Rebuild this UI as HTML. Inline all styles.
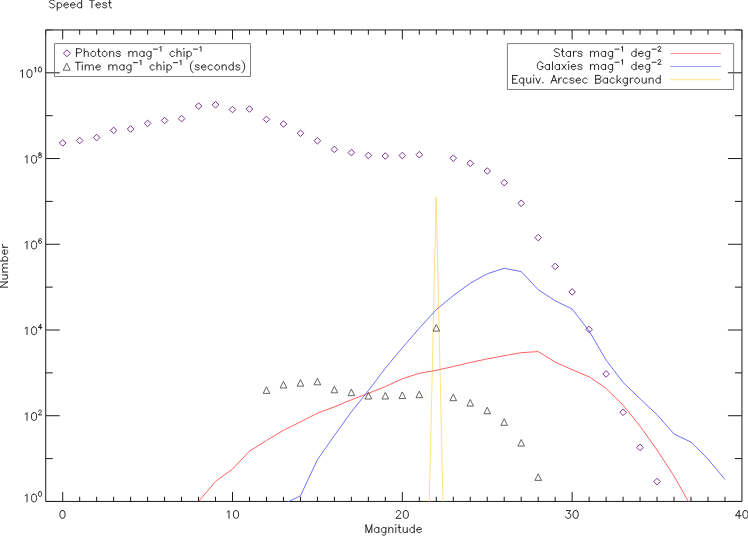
<!DOCTYPE html>
<html><head><meta charset="utf-8"><title>Speed Test</title>
<style>html,body{margin:0;padding:0;background:#fff;font-family:"Liberation Sans",sans-serif;}svg{display:block}</style></head>
<body>
<svg width="748" height="536" viewBox="0 0 748 536">
<rect x="0" y="0" width="748" height="536" fill="#fff"/>
<path d="M45.72 29.95 H741.95 V501.45 H45.72 ZM62.7 501.45 v-9.4 M62.7 29.95 v9.4M79.68 501.45 v-4.7 M79.68 29.95 v4.7M96.66 501.45 v-4.7 M96.66 29.95 v4.7M113.64 501.45 v-4.7 M113.64 29.95 v4.7M130.63 501.45 v-4.7 M130.63 29.95 v4.7M147.61 501.45 v-4.7 M147.61 29.95 v4.7M164.59 501.45 v-4.7 M164.59 29.95 v4.7M181.57 501.45 v-4.7 M181.57 29.95 v4.7M198.55 501.45 v-4.7 M198.55 29.95 v4.7M215.53 501.45 v-4.7 M215.53 29.95 v4.7M232.51 501.45 v-9.4 M232.51 29.95 v9.4M249.49 501.45 v-4.7 M249.49 29.95 v4.7M266.48 501.45 v-4.7 M266.48 29.95 v4.7M283.46 501.45 v-4.7 M283.46 29.95 v4.7M300.44 501.45 v-4.7 M300.44 29.95 v4.7M317.42 501.45 v-4.7 M317.42 29.95 v4.7M334.4 501.45 v-4.7 M334.4 29.95 v4.7M351.38 501.45 v-4.7 M351.38 29.95 v4.7M368.36 501.45 v-4.7 M368.36 29.95 v4.7M385.34 501.45 v-4.7 M385.34 29.95 v4.7M402.33 501.45 v-9.4 M402.33 29.95 v9.4M419.31 501.45 v-4.7 M419.31 29.95 v4.7M436.29 501.45 v-4.7 M436.29 29.95 v4.7M453.27 501.45 v-4.7 M453.27 29.95 v4.7M470.25 501.45 v-4.7 M470.25 29.95 v4.7M487.23 501.45 v-4.7 M487.23 29.95 v4.7M504.21 501.45 v-4.7 M504.21 29.95 v4.7M521.19 501.45 v-4.7 M521.19 29.95 v4.7M538.18 501.45 v-4.7 M538.18 29.95 v4.7M555.16 501.45 v-4.7 M555.16 29.95 v4.7M572.14 501.45 v-9.4 M572.14 29.95 v9.4M589.12 501.45 v-4.7 M589.12 29.95 v4.7M606.1 501.45 v-4.7 M606.1 29.95 v4.7M623.08 501.45 v-4.7 M623.08 29.95 v4.7M640.06 501.45 v-4.7 M640.06 29.95 v4.7M657.04 501.45 v-4.7 M657.04 29.95 v4.7M674.03 501.45 v-4.7 M674.03 29.95 v4.7M691.01 501.45 v-4.7 M691.01 29.95 v4.7M707.99 501.45 v-4.7 M707.99 29.95 v4.7M724.97 501.45 v-4.7 M724.97 29.95 v4.7M45.72 458.59 h7 M741.95 458.59 h-7M45.72 415.72 h14 M741.95 415.72 h-14M45.72 372.86 h7 M741.95 372.86 h-7M45.72 330 h14 M741.95 330 h-14M45.72 287.13 h7 M741.95 287.13 h-7M45.72 244.27 h14 M741.95 244.27 h-14M45.72 201.4 h7 M741.95 201.4 h-7M45.72 158.54 h14 M741.95 158.54 h-14M45.72 115.68 h7 M741.95 115.68 h-7M45.72 72.81 h14 M741.95 72.81 h-14" fill="none" stroke="#1a1a1a" stroke-width="1"/>
<path d="M45.72 29.95 v4.7M741.95 29.95 v9.4M45.72 501.45 h14 M741.95 501.45 h-14M45.72 29.95 h7 M741.95 29.95 h-7" fill="none" stroke="#1a1a1a" stroke-width="1" stroke-opacity="0.55"/>
<clipPath id="c"><rect x="45.72" y="29.95" width="696.23" height="471.8"/></clipPath>
<g clip-path="url(#c)" fill="none" stroke-linejoin="round">
<path d="M419.31 946 L436.19 196.7 L452.87 946" stroke="#ffd75f" stroke-width="0.9" stroke-opacity="0.85"/>
<path d="M198.55 501.6 L215.53 481.4 L232.51 469.1 L249.49 451.1 L266.48 440.5 L283.46 430.3 L300.44 421.9 L317.42 413.2 L334.4 406.9 L351.38 399.8 L368.36 393.4 L385.34 386.6 L402.33 378.8 L419.31 373.3 L436.29 370.3 L453.27 366.5 L470.25 362.5 L487.23 358.9 L504.21 355.7 L521.19 352.7 L538.18 351.6 L555.16 362.1 L572.14 369.7 L589.12 376.8 L606.1 388.4 L623.08 405.2 L640.06 426.2 L657.04 450 L674.03 476.1 L691.01 506.1" stroke="#ff5a5a" stroke-width="0.95"/>
<path d="M283.46 504 L300.44 495.8 L317.42 459.7 L334.4 435.5 L351.38 411.8 L368.36 390.6 L385.34 368.2 L402.33 347.8 L419.31 328.2 L436.29 309.7 L453.27 295.6 L470.25 283.2 L487.23 273.8 L504.21 268.3 L521.19 271.6 L538.18 289.6 L555.16 300.8 L572.14 309 L589.12 331 L606.1 360.1 L623.08 382.4 L640.06 398.8 L657.04 414.7 L674.03 434 L691.01 442.1 L707.99 459.1 L724.97 479.5" stroke="#6868ff" stroke-width="0.95"/>
</g>
<path d="M59.4 142.95 l3.3 -3.3 l3.3 3.3 l-3.3 3.3 ZM76.38 140.5 l3.3 -3.3 l3.3 3.3 l-3.3 3.3 ZM93.36 137.6 l3.3 -3.3 l3.3 3.3 l-3.3 3.3 ZM110.34 130.4 l3.3 -3.3 l3.3 3.3 l-3.3 3.3 ZM127.33 129 l3.3 -3.3 l3.3 3.3 l-3.3 3.3 ZM144.31 123.4 l3.3 -3.3 l3.3 3.3 l-3.3 3.3 ZM161.29 120.5 l3.3 -3.3 l3.3 3.3 l-3.3 3.3 ZM178.27 118.6 l3.3 -3.3 l3.3 3.3 l-3.3 3.3 ZM195.25 106.05 l3.3 -3.3 l3.3 3.3 l-3.3 3.3 ZM212.23 104.8 l3.3 -3.3 l3.3 3.3 l-3.3 3.3 ZM229.21 109.5 l3.3 -3.3 l3.3 3.3 l-3.3 3.3 ZM246.19 109 l3.3 -3.3 l3.3 3.3 l-3.3 3.3 ZM263.18 119.4 l3.3 -3.3 l3.3 3.3 l-3.3 3.3 ZM280.16 124 l3.3 -3.3 l3.3 3.3 l-3.3 3.3 ZM297.14 133.3 l3.3 -3.3 l3.3 3.3 l-3.3 3.3 ZM314.12 140.8 l3.3 -3.3 l3.3 3.3 l-3.3 3.3 ZM331.1 149.4 l3.3 -3.3 l3.3 3.3 l-3.3 3.3 ZM348.08 152.6 l3.3 -3.3 l3.3 3.3 l-3.3 3.3 ZM365.06 155.5 l3.3 -3.3 l3.3 3.3 l-3.3 3.3 ZM382.04 156 l3.3 -3.3 l3.3 3.3 l-3.3 3.3 ZM399.03 155.5 l3.3 -3.3 l3.3 3.3 l-3.3 3.3 ZM416.01 154.7 l3.3 -3.3 l3.3 3.3 l-3.3 3.3 ZM449.97 158.2 l3.3 -3.3 l3.3 3.3 l-3.3 3.3 ZM466.95 163.3 l3.3 -3.3 l3.3 3.3 l-3.3 3.3 ZM483.93 171 l3.3 -3.3 l3.3 3.3 l-3.3 3.3 ZM500.91 182.7 l3.3 -3.3 l3.3 3.3 l-3.3 3.3 ZM517.89 203.3 l3.3 -3.3 l3.3 3.3 l-3.3 3.3 ZM534.88 237.6 l3.3 -3.3 l3.3 3.3 l-3.3 3.3 ZM551.86 266.4 l3.3 -3.3 l3.3 3.3 l-3.3 3.3 ZM568.84 291.9 l3.3 -3.3 l3.3 3.3 l-3.3 3.3 ZM585.82 329.4 l3.3 -3.3 l3.3 3.3 l-3.3 3.3 ZM602.8 373.9 l3.3 -3.3 l3.3 3.3 l-3.3 3.3 ZM619.78 412.3 l3.3 -3.3 l3.3 3.3 l-3.3 3.3 ZM636.76 447.4 l3.3 -3.3 l3.3 3.3 l-3.3 3.3 ZM653.74 481.6 l3.3 -3.3 l3.3 3.3 l-3.3 3.3 ZM63.45 53.25 l3.5 -3.5 l3.5 3.5 l-3.5 3.5 Z" fill="none" stroke="#7c3492" stroke-width="1"/>
<path d="M263.18 393.4 l6.6 0 l-3.3 -6.6 ZM280.16 388 l6.6 0 l-3.3 -6.6 ZM297.14 386.2 l6.6 0 l-3.3 -6.6 ZM314.12 384.8 l6.6 0 l-3.3 -6.6 ZM331.1 392.8 l6.6 0 l-3.3 -6.6 ZM348.08 395.7 l6.6 0 l-3.3 -6.6 ZM365.06 399 l6.6 0 l-3.3 -6.6 ZM382.04 399 l6.6 0 l-3.3 -6.6 ZM399.03 398.5 l6.6 0 l-3.3 -6.6 ZM416.01 397.7 l6.6 0 l-3.3 -6.6 ZM432.99 331.1 l6.6 0 l-3.3 -6.6 ZM449.97 400.7 l6.6 0 l-3.3 -6.6 ZM466.95 406.1 l6.6 0 l-3.3 -6.6 ZM483.93 413.8 l6.6 0 l-3.3 -6.6 ZM500.91 425.3 l6.6 0 l-3.3 -6.6 ZM517.89 446.1 l6.6 0 l-3.3 -6.6 ZM534.88 480.4 l6.6 0 l-3.3 -6.6 ZM63.2 70.2 l7 0 l-3.5 -7 Z" fill="none" stroke="#333" stroke-width="0.75"/>
<path d="M54.5 43.6 H250.5 V76.5 H54.5 Z M507.4 43.6 H733.6 V89.5 H507.4 Z" fill="none" stroke="#707070" stroke-width="0.9"/>
<path d="M670.2 53.5 H721" stroke="#ff9494" stroke-width="1" fill="none"/>
<path d="M670.2 66.5 H721" stroke="#9c9cff" stroke-width="1" fill="none"/>
<path d="M670.2 79.6 H721" stroke="#ffe08a" stroke-width="1.3" stroke-opacity="0.8" fill="none"/>
<path d="M54.67 1.21 L53.94 0.47 L52.83 0.1 L51.35 0.1 L50.24 0.47 L49.51 1.21 L49.51 1.95 L49.88 2.68 L50.24 3.05 L50.98 3.42 L53.2 4.16 L53.94 4.53 L54.3 4.9 L54.67 5.64 L54.67 6.74 L53.94 7.48 L52.83 7.85 L51.35 7.85 L50.24 7.48 L49.51 6.74M57.26 2.68 L57.26 10.43M57.26 3.79 L57.99 3.05 L58.73 2.68 L59.84 2.68 L60.58 3.05 L61.31 3.79 L61.68 4.9 L61.68 5.64 L61.31 6.74 L60.58 7.48 L59.84 7.85 L58.73 7.85 L57.99 7.48 L57.26 6.74M63.9 4.9 L68.33 4.9 L68.33 4.16 L67.96 3.42 L67.59 3.05 L66.85 2.68 L65.74 2.68 L65 3.05 L64.27 3.79 L63.9 4.9 L63.9 5.64 L64.27 6.74 L65 7.48 L65.74 7.85 L66.85 7.85 L67.59 7.48 L68.33 6.74M70.54 4.9 L74.97 4.9 L74.97 4.16 L74.6 3.42 L74.23 3.05 L73.49 2.68 L72.38 2.68 L71.65 3.05 L70.91 3.79 L70.54 4.9 L70.54 5.64 L70.91 6.74 L71.65 7.48 L72.38 7.85 L73.49 7.85 L74.23 7.48 L74.97 6.74M81.61 0.1 L81.61 7.85M81.61 3.79 L80.87 3.05 L80.13 2.68 L79.03 2.68 L78.29 3.05 L77.55 3.79 L77.18 4.9 L77.18 5.64 L77.55 6.74 L78.29 7.48 L79.03 7.85 L80.13 7.85 L80.87 7.48 L81.61 6.74M91.94 0.1 L91.94 7.85M89.36 0.1 L94.53 0.1M96 4.9 L100.43 4.9 L100.43 4.16 L100.06 3.42 L99.69 3.05 L98.95 2.68 L97.85 2.68 L97.11 3.05 L96.37 3.79 L96 4.9 L96 5.64 L96.37 6.74 L97.11 7.48 L97.85 7.85 L98.95 7.85 L99.69 7.48 L100.43 6.74M106.7 3.79 L106.33 3.05 L105.23 2.68 L104.12 2.68 L103.01 3.05 L102.64 3.79 L103.01 4.53 L103.75 4.9 L105.59 5.27 L106.33 5.64 L106.7 6.37 L106.7 6.74 L106.33 7.48 L105.23 7.85 L104.12 7.85 L103.01 7.48 L102.64 6.74M109.65 0.1 L109.65 6.37 L110.02 7.48 L110.76 7.85 L111.5 7.85M108.55 2.68 L111.13 2.68M76.48 48.75 L76.48 56.5M76.48 48.75 L79.8 48.75 L80.9 49.12 L81.27 49.49 L81.64 50.23 L81.64 51.33 L81.27 52.07 L80.9 52.44 L79.8 52.81 L76.48 52.81M84.22 48.75 L84.22 56.5M84.22 52.81 L85.33 51.7 L86.07 51.33 L87.18 51.33 L87.91 51.7 L88.28 52.81 L88.28 56.5M92.71 51.33 L91.97 51.7 L91.24 52.44 L90.87 53.55 L90.87 54.29 L91.24 55.39 L91.97 56.13 L92.71 56.5 L93.82 56.5 L94.56 56.13 L95.3 55.39 L95.66 54.29 L95.66 53.55 L95.3 52.44 L94.56 51.7 L93.82 51.33 L92.71 51.33M98.62 48.75 L98.62 55.02 L98.98 56.13 L99.72 56.5 L100.46 56.5M97.51 51.33 L100.09 51.33M104.15 51.33 L103.41 51.7 L102.67 52.44 L102.31 53.55 L102.31 54.29 L102.67 55.39 L103.41 56.13 L104.15 56.5 L105.26 56.5 L106 56.13 L106.73 55.39 L107.1 54.29 L107.1 53.55 L106.73 52.44 L106 51.7 L105.26 51.33 L104.15 51.33M109.69 51.33 L109.69 56.5M109.69 52.81 L110.79 51.7 L111.53 51.33 L112.64 51.33 L113.38 51.7 L113.75 52.81 L113.75 56.5M120.39 52.44 L120.02 51.7 L118.91 51.33 L117.8 51.33 L116.7 51.7 L116.33 52.44 L116.7 53.18 L117.44 53.55 L119.28 53.92 L120.02 54.29 L120.39 55.02 L120.39 55.39 L120.02 56.13 L118.91 56.5 L117.8 56.5 L116.7 56.13 L116.33 55.39M128.87 51.33 L128.87 56.5M128.87 52.81 L129.98 51.7 L130.72 51.33 L131.83 51.33 L132.56 51.7 L132.93 52.81 L132.93 56.5M132.93 52.81 L134.04 51.7 L134.78 51.33 L135.88 51.33 L136.62 51.7 L136.99 52.81 L136.99 56.5M144 51.33 L144 56.5M144 52.44 L143.26 51.7 L142.53 51.33 L141.42 51.33 L140.68 51.7 L139.94 52.44 L139.57 53.55 L139.57 54.29 L139.94 55.39 L140.68 56.13 L141.42 56.5 L142.53 56.5 L143.26 56.13 L144 55.39M151.01 51.33 L151.01 57.24 L150.64 58.34 L150.28 58.71 L149.54 59.08 L148.43 59.08 L147.69 58.71M151.01 52.44 L150.28 51.7 L149.54 51.33 L148.43 51.33 L147.69 51.7 L146.95 52.44 L146.59 53.55 L146.59 54.29 L146.95 55.39 L147.69 56.13 L148.43 56.5 L149.54 56.5 L150.28 56.13 L151.01 55.39M153.41 49.14 L157.52 49.14M159.81 47.31 L160.27 47.08 L160.95 46.4 L160.95 51.2M174.45 52.44 L173.71 51.7 L172.98 51.33 L171.87 51.33 L171.13 51.7 L170.39 52.44 L170.02 53.55 L170.02 54.29 L170.39 55.39 L171.13 56.13 L171.87 56.5 L172.98 56.5 L173.71 56.13 L174.45 55.39M177.04 48.75 L177.04 56.5M177.04 52.81 L178.14 51.7 L178.88 51.33 L179.99 51.33 L180.73 51.7 L181.09 52.81 L181.09 56.5M183.68 48.75 L184.05 49.12 L184.42 48.75 L184.05 48.38 L183.68 48.75M184.05 51.33 L184.05 56.5M187 51.33 L187 59.08M187 52.44 L187.74 51.7 L188.47 51.33 L189.58 51.33 L190.32 51.7 L191.06 52.44 L191.43 53.55 L191.43 54.29 L191.06 55.39 L190.32 56.13 L189.58 56.5 L188.47 56.5 L187.74 56.13 L187 55.39M193.45 49.14 L197.57 49.14M199.85 47.31 L200.31 47.08 L201 46.4 L201 51.2M77.85 62.25 L77.85 70M75.27 62.25 L80.44 62.25M81.91 62.25 L82.28 62.62 L82.65 62.25 L82.28 61.88 L81.91 62.25M82.28 64.83 L82.28 70M85.23 64.83 L85.23 70M85.23 66.31 L86.34 65.2 L87.08 64.83 L88.18 64.83 L88.92 65.2 L89.29 66.31 L89.29 70M89.29 66.31 L90.4 65.2 L91.14 64.83 L92.24 64.83 L92.98 65.2 L93.35 66.31 L93.35 70M95.93 67.05 L100.36 67.05 L100.36 66.31 L99.99 65.57 L99.62 65.2 L98.89 64.83 L97.78 64.83 L97.04 65.2 L96.3 65.94 L95.93 67.05 L95.93 67.79 L96.3 68.89 L97.04 69.63 L97.78 70 L98.89 70 L99.62 69.63 L100.36 68.89M108.85 64.83 L108.85 70M108.85 66.31 L109.96 65.2 L110.69 64.83 L111.8 64.83 L112.54 65.2 L112.91 66.31 L112.91 70M112.91 66.31 L114.01 65.2 L114.75 64.83 L115.86 64.83 L116.6 65.2 L116.97 66.31 L116.97 70M123.98 64.83 L123.98 70M123.98 65.94 L123.24 65.2 L122.5 64.83 L121.39 64.83 L120.66 65.2 L119.92 65.94 L119.55 67.05 L119.55 67.79 L119.92 68.89 L120.66 69.63 L121.39 70 L122.5 70 L123.24 69.63 L123.98 68.89M130.99 64.83 L130.99 70.74 L130.62 71.84 L130.25 72.21 L129.51 72.58 L128.41 72.58 L127.67 72.21M130.99 65.94 L130.25 65.2 L129.51 64.83 L128.41 64.83 L127.67 65.2 L126.93 65.94 L126.56 67.05 L126.56 67.79 L126.93 68.89 L127.67 69.63 L128.41 70 L129.51 70 L130.25 69.63 L130.99 68.89M133.38 62.64 L137.5 62.64M139.78 60.81 L140.24 60.58 L140.93 59.9 L140.93 64.7M154.43 65.94 L153.69 65.2 L152.95 64.83 L151.84 64.83 L151.11 65.2 L150.37 65.94 L150 67.05 L150 67.79 L150.37 68.89 L151.11 69.63 L151.84 70 L152.95 70 L153.69 69.63 L154.43 68.89M157.01 62.25 L157.01 70M157.01 66.31 L158.12 65.2 L158.85 64.83 L159.96 64.83 L160.7 65.2 L161.07 66.31 L161.07 70M163.65 62.25 L164.02 62.62 L164.39 62.25 L164.02 61.88 L163.65 62.25M164.02 64.83 L164.02 70M166.97 64.83 L166.97 72.58M166.97 65.94 L167.71 65.2 L168.45 64.83 L169.56 64.83 L170.29 65.2 L171.03 65.94 L171.4 67.05 L171.4 67.79 L171.03 68.89 L170.29 69.63 L169.56 70 L168.45 70 L167.71 69.63 L166.97 68.89M173.42 62.64 L177.54 62.64M179.83 60.81 L180.29 60.58 L180.97 59.9 L180.97 64.7M192.99 60.77 L192.26 61.51 L191.52 62.62 L190.78 64.1 L190.41 65.94 L190.41 67.42 L190.78 69.26 L191.52 70.74 L192.26 71.84 L192.99 72.58M199.27 65.94 L198.9 65.2 L197.79 64.83 L196.68 64.83 L195.58 65.2 L195.21 65.94 L195.58 66.68 L196.32 67.05 L198.16 67.42 L198.9 67.79 L199.27 68.52 L199.27 68.89 L198.9 69.63 L197.79 70 L196.68 70 L195.58 69.63 L195.21 68.89M201.48 67.05 L205.91 67.05 L205.91 66.31 L205.54 65.57 L205.17 65.2 L204.43 64.83 L203.33 64.83 L202.59 65.2 L201.85 65.94 L201.48 67.05 L201.48 67.79 L201.85 68.89 L202.59 69.63 L203.33 70 L204.43 70 L205.17 69.63 L205.91 68.89M212.55 65.94 L211.81 65.2 L211.08 64.83 L209.97 64.83 L209.23 65.2 L208.49 65.94 L208.12 67.05 L208.12 67.79 L208.49 68.89 L209.23 69.63 L209.97 70 L211.08 70 L211.81 69.63 L212.55 68.89M216.61 64.83 L215.87 65.2 L215.13 65.94 L214.77 67.05 L214.77 67.79 L215.13 68.89 L215.87 69.63 L216.61 70 L217.72 70 L218.46 69.63 L219.19 68.89 L219.56 67.79 L219.56 67.05 L219.19 65.94 L218.46 65.2 L217.72 64.83 L216.61 64.83M222.15 64.83 L222.15 70M222.15 66.31 L223.25 65.2 L223.99 64.83 L225.1 64.83 L225.84 65.2 L226.2 66.31 L226.2 70M233.22 62.25 L233.22 70M233.22 65.94 L232.48 65.2 L231.74 64.83 L230.63 64.83 L229.89 65.2 L229.16 65.94 L228.79 67.05 L228.79 67.79 L229.16 68.89 L229.89 69.63 L230.63 70 L231.74 70 L232.48 69.63 L233.22 68.89M239.86 65.94 L239.49 65.2 L238.38 64.83 L237.27 64.83 L236.17 65.2 L235.8 65.94 L236.17 66.68 L236.91 67.05 L238.75 67.42 L239.49 67.79 L239.86 68.52 L239.86 68.89 L239.49 69.63 L238.38 70 L237.27 70 L236.17 69.63 L235.8 68.89M242.07 60.77 L242.81 61.51 L243.55 62.62 L244.29 64.1 L244.65 65.94 L244.65 67.42 L244.29 69.26 L243.55 70.74 L242.81 71.84 L242.07 72.58M559.47 49.86 L558.73 49.12 L557.63 48.75 L556.15 48.75 L555.04 49.12 L554.31 49.86 L554.31 50.6 L554.68 51.33 L555.04 51.7 L555.78 52.07 L558 52.81 L558.73 53.18 L559.1 53.55 L559.47 54.29 L559.47 55.39 L558.73 56.13 L557.63 56.5 L556.15 56.5 L555.04 56.13 L554.31 55.39M562.42 48.75 L562.42 55.02 L562.79 56.13 L563.53 56.5 L564.27 56.5M561.32 51.33 L563.9 51.33M570.54 51.33 L570.54 56.5M570.54 52.44 L569.8 51.7 L569.07 51.33 L567.96 51.33 L567.22 51.7 L566.48 52.44 L566.11 53.55 L566.11 54.29 L566.48 55.39 L567.22 56.13 L567.96 56.5 L569.07 56.5 L569.8 56.13 L570.54 55.39M573.49 51.33 L573.49 56.5M573.49 53.55 L573.86 52.44 L574.6 51.7 L575.34 51.33 L576.45 51.33M581.98 52.44 L581.61 51.7 L580.51 51.33 L579.4 51.33 L578.29 51.7 L577.92 52.44 L578.29 53.18 L579.03 53.55 L580.87 53.92 L581.61 54.29 L581.98 55.02 L581.98 55.39 L581.61 56.13 L580.51 56.5 L579.4 56.5 L578.29 56.13 L577.92 55.39M590.47 51.33 L590.47 56.5M590.47 52.81 L591.58 51.7 L592.31 51.33 L593.42 51.33 L594.16 51.7 L594.53 52.81 L594.53 56.5M594.53 52.81 L595.63 51.7 L596.37 51.33 L597.48 51.33 L598.22 51.7 L598.59 52.81 L598.59 56.5M605.6 51.33 L605.6 56.5M605.6 52.44 L604.86 51.7 L604.12 51.33 L603.01 51.33 L602.28 51.7 L601.54 52.44 L601.17 53.55 L601.17 54.29 L601.54 55.39 L602.28 56.13 L603.01 56.5 L604.12 56.5 L604.86 56.13 L605.6 55.39M612.61 51.33 L612.61 57.24 L612.24 58.34 L611.87 58.71 L611.13 59.08 L610.03 59.08 L609.29 58.71M612.61 52.44 L611.87 51.7 L611.13 51.33 L610.03 51.33 L609.29 51.7 L608.55 52.44 L608.18 53.55 L608.18 54.29 L608.55 55.39 L609.29 56.13 L610.03 56.5 L611.13 56.5 L611.87 56.13 L612.61 55.39M615 49.14 L619.12 49.14M621.41 47.31 L621.86 47.08 L622.55 46.4 L622.55 51.2M636.05 48.75 L636.05 56.5M636.05 52.44 L635.31 51.7 L634.57 51.33 L633.46 51.33 L632.73 51.7 L631.99 52.44 L631.62 53.55 L631.62 54.29 L631.99 55.39 L632.73 56.13 L633.46 56.5 L634.57 56.5 L635.31 56.13 L636.05 55.39M638.63 53.55 L643.06 53.55 L643.06 52.81 L642.69 52.07 L642.32 51.7 L641.58 51.33 L640.48 51.33 L639.74 51.7 L639 52.44 L638.63 53.55 L638.63 54.29 L639 55.39 L639.74 56.13 L640.48 56.5 L641.58 56.5 L642.32 56.13 L643.06 55.39M649.7 51.33 L649.7 57.24 L649.33 58.34 L648.96 58.71 L648.22 59.08 L647.12 59.08 L646.38 58.71M649.7 52.44 L648.96 51.7 L648.22 51.33 L647.12 51.33 L646.38 51.7 L645.64 52.44 L645.27 53.55 L645.27 54.29 L645.64 55.39 L646.38 56.13 L647.12 56.5 L648.22 56.5 L648.96 56.13 L649.7 55.39M652.09 49.14 L656.21 49.14M658.04 47.54 L658.04 47.31 L658.27 46.85 L658.5 46.62 L658.95 46.4 L659.87 46.4 L660.33 46.62 L660.56 46.85 L660.78 47.31 L660.78 47.77 L660.56 48.23 L660.1 48.91 L657.81 51.2 L661.01 51.2M542.87 63.7 L542.5 62.96 L541.76 62.22 L541.02 61.85 L539.55 61.85 L538.81 62.22 L538.07 62.96 L537.7 63.7 L537.33 64.8 L537.33 66.65 L537.7 67.75 L538.07 68.49 L538.81 69.23 L539.55 69.6 L541.02 69.6 L541.76 69.23 L542.5 68.49 L542.87 67.75 L542.87 66.65M541.02 66.65 L542.87 66.65M549.51 64.43 L549.51 69.6M549.51 65.54 L548.77 64.8 L548.03 64.43 L546.93 64.43 L546.19 64.8 L545.45 65.54 L545.08 66.65 L545.08 67.39 L545.45 68.49 L546.19 69.23 L546.93 69.6 L548.03 69.6 L548.77 69.23 L549.51 68.49M552.46 61.85 L552.46 69.6M559.47 64.43 L559.47 69.6M559.47 65.54 L558.73 64.8 L558 64.43 L556.89 64.43 L556.15 64.8 L555.41 65.54 L555.04 66.65 L555.04 67.39 L555.41 68.49 L556.15 69.23 L556.89 69.6 L558 69.6 L558.73 69.23 L559.47 68.49M562.06 64.43 L566.11 69.6M566.11 64.43 L562.06 69.6M568.33 61.85 L568.7 62.22 L569.07 61.85 L568.7 61.48 L568.33 61.85M568.7 64.43 L568.7 69.6M571.28 66.65 L575.71 66.65 L575.71 65.91 L575.34 65.17 L574.97 64.8 L574.23 64.43 L573.13 64.43 L572.39 64.8 L571.65 65.54 L571.28 66.65 L571.28 67.39 L571.65 68.49 L572.39 69.23 L573.13 69.6 L574.23 69.6 L574.97 69.23 L575.71 68.49M581.98 65.54 L581.61 64.8 L580.51 64.43 L579.4 64.43 L578.29 64.8 L577.92 65.54 L578.29 66.28 L579.03 66.65 L580.87 67.02 L581.61 67.39 L581.98 68.12 L581.98 68.49 L581.61 69.23 L580.51 69.6 L579.4 69.6 L578.29 69.23 L577.92 68.49M590.47 64.43 L590.47 69.6M590.47 65.91 L591.58 64.8 L592.31 64.43 L593.42 64.43 L594.16 64.8 L594.53 65.91 L594.53 69.6M594.53 65.91 L595.63 64.8 L596.37 64.43 L597.48 64.43 L598.22 64.8 L598.59 65.91 L598.59 69.6M605.6 64.43 L605.6 69.6M605.6 65.54 L604.86 64.8 L604.12 64.43 L603.01 64.43 L602.28 64.8 L601.54 65.54 L601.17 66.65 L601.17 67.39 L601.54 68.49 L602.28 69.23 L603.01 69.6 L604.12 69.6 L604.86 69.23 L605.6 68.49M612.61 64.43 L612.61 70.34 L612.24 71.44 L611.87 71.81 L611.13 72.18 L610.03 72.18 L609.29 71.81M612.61 65.54 L611.87 64.8 L611.13 64.43 L610.03 64.43 L609.29 64.8 L608.55 65.54 L608.18 66.65 L608.18 67.39 L608.55 68.49 L609.29 69.23 L610.03 69.6 L611.13 69.6 L611.87 69.23 L612.61 68.49M615 62.24 L619.12 62.24M621.41 60.41 L621.86 60.18 L622.55 59.5 L622.55 64.3M636.05 61.85 L636.05 69.6M636.05 65.54 L635.31 64.8 L634.57 64.43 L633.46 64.43 L632.73 64.8 L631.99 65.54 L631.62 66.65 L631.62 67.39 L631.99 68.49 L632.73 69.23 L633.46 69.6 L634.57 69.6 L635.31 69.23 L636.05 68.49M638.63 66.65 L643.06 66.65 L643.06 65.91 L642.69 65.17 L642.32 64.8 L641.58 64.43 L640.48 64.43 L639.74 64.8 L639 65.54 L638.63 66.65 L638.63 67.39 L639 68.49 L639.74 69.23 L640.48 69.6 L641.58 69.6 L642.32 69.23 L643.06 68.49M649.7 64.43 L649.7 70.34 L649.33 71.44 L648.96 71.81 L648.22 72.18 L647.12 72.18 L646.38 71.81M649.7 65.54 L648.96 64.8 L648.22 64.43 L647.12 64.43 L646.38 64.8 L645.64 65.54 L645.27 66.65 L645.27 67.39 L645.64 68.49 L646.38 69.23 L647.12 69.6 L648.22 69.6 L648.96 69.23 L649.7 68.49M652.09 62.24 L656.21 62.24M658.04 60.64 L658.04 60.41 L658.27 59.95 L658.5 59.72 L658.95 59.5 L659.87 59.5 L660.33 59.72 L660.56 59.95 L660.78 60.41 L660.78 60.87 L660.56 61.33 L660.1 62.01 L657.81 64.3 L661.01 64.3M512.62 75.45 L512.62 83.2M512.62 75.45 L517.42 75.45M512.62 79.14 L515.58 79.14M512.62 83.2 L517.42 83.2M523.69 78.03 L523.69 85.78M523.69 79.14 L522.96 78.4 L522.22 78.03 L521.11 78.03 L520.37 78.4 L519.64 79.14 L519.27 80.25 L519.27 80.99 L519.64 82.09 L520.37 82.83 L521.11 83.2 L522.22 83.2 L522.96 82.83 L523.69 82.09M526.65 78.03 L526.65 81.72 L527.02 82.83 L527.75 83.2 L528.86 83.2 L529.6 82.83 L530.71 81.72M530.71 78.03 L530.71 83.2M533.29 75.45 L533.66 75.82 L534.03 75.45 L533.66 75.08 L533.29 75.45M533.66 78.03 L533.66 83.2M535.87 78.03 L538.09 83.2M540.3 78.03 L538.09 83.2M542.88 82.46 L542.51 82.83 L542.88 83.2 L543.25 82.83 L542.88 82.46M553.95 75.45 L551 83.2M553.95 75.45 L556.9 83.2M552.11 80.62 L555.8 80.62M558.75 78.03 L558.75 83.2M558.75 80.25 L559.12 79.14 L559.86 78.4 L560.59 78.03 L561.7 78.03M567.61 79.14 L566.87 78.4 L566.13 78.03 L565.02 78.03 L564.28 78.4 L563.55 79.14 L563.18 80.25 L563.18 80.99 L563.55 82.09 L564.28 82.83 L565.02 83.2 L566.13 83.2 L566.87 82.83 L567.61 82.09M573.88 79.14 L573.51 78.4 L572.4 78.03 L571.3 78.03 L570.19 78.4 L569.82 79.14 L570.19 79.88 L570.93 80.25 L572.77 80.62 L573.51 80.99 L573.88 81.72 L573.88 82.09 L573.51 82.83 L572.4 83.2 L571.3 83.2 L570.19 82.83 L569.82 82.09M576.09 80.25 L580.52 80.25 L580.52 79.51 L580.15 78.77 L579.78 78.4 L579.04 78.03 L577.94 78.03 L577.2 78.4 L576.46 79.14 L576.09 80.25 L576.09 80.99 L576.46 82.09 L577.2 82.83 L577.94 83.2 L579.04 83.2 L579.78 82.83 L580.52 82.09M587.16 79.14 L586.42 78.4 L585.69 78.03 L584.58 78.03 L583.84 78.4 L583.1 79.14 L582.73 80.25 L582.73 80.99 L583.1 82.09 L583.84 82.83 L584.58 83.2 L585.69 83.2 L586.42 82.83 L587.16 82.09M595.65 75.45 L595.65 83.2M595.65 75.45 L598.97 75.45 L600.08 75.82 L600.45 76.19 L600.82 76.93 L600.82 77.67 L600.45 78.4 L600.08 78.77 L598.97 79.14M595.65 79.14 L598.97 79.14 L600.08 79.51 L600.45 79.88 L600.82 80.62 L600.82 81.72 L600.45 82.46 L600.08 82.83 L598.97 83.2 L595.65 83.2M607.46 78.03 L607.46 83.2M607.46 79.14 L606.72 78.4 L605.98 78.03 L604.87 78.03 L604.14 78.4 L603.4 79.14 L603.03 80.25 L603.03 80.99 L603.4 82.09 L604.14 82.83 L604.87 83.2 L605.98 83.2 L606.72 82.83 L607.46 82.09M614.47 79.14 L613.73 78.4 L612.99 78.03 L611.89 78.03 L611.15 78.4 L610.41 79.14 L610.04 80.25 L610.04 80.99 L610.41 82.09 L611.15 82.83 L611.89 83.2 L612.99 83.2 L613.73 82.83 L614.47 82.09M617.05 75.45 L617.05 83.2M620.74 78.03 L617.05 81.72M618.53 80.25 L621.11 83.2M627.38 78.03 L627.38 83.94 L627.01 85.05 L626.65 85.41 L625.91 85.78 L624.8 85.78 L624.06 85.41M627.38 79.14 L626.65 78.4 L625.91 78.03 L624.8 78.03 L624.06 78.4 L623.32 79.14 L622.96 80.25 L622.96 80.99 L623.32 82.09 L624.06 82.83 L624.8 83.2 L625.91 83.2 L626.65 82.83 L627.38 82.09M630.34 78.03 L630.34 83.2M630.34 80.25 L630.7 79.14 L631.44 78.4 L632.18 78.03 L633.29 78.03M636.61 78.03 L635.87 78.4 L635.13 79.14 L634.76 80.25 L634.76 80.99 L635.13 82.09 L635.87 82.83 L636.61 83.2 L637.72 83.2 L638.45 82.83 L639.19 82.09 L639.56 80.99 L639.56 80.25 L639.19 79.14 L638.45 78.4 L637.72 78.03 L636.61 78.03M642.14 78.03 L642.14 81.72 L642.51 82.83 L643.25 83.2 L644.36 83.2 L645.1 82.83 L646.2 81.72M646.2 78.03 L646.2 83.2M649.15 78.03 L649.15 83.2M649.15 79.51 L650.26 78.4 L651 78.03 L652.11 78.03 L652.84 78.4 L653.21 79.51 L653.21 83.2M660.22 75.45 L660.22 83.2M660.22 79.14 L659.49 78.4 L658.75 78.03 L657.64 78.03 L656.9 78.4 L656.17 79.14 L655.8 80.25 L655.8 80.99 L656.17 82.09 L656.9 82.83 L657.64 83.2 L658.75 83.2 L659.49 82.83 L660.22 82.09M62.13 510.55 L61.03 510.92 L60.29 512.03 L59.92 513.87 L59.92 514.98 L60.29 516.82 L61.03 517.93 L62.13 518.3 L62.87 518.3 L63.98 517.93 L64.72 516.82 L65.08 514.98 L65.08 513.87 L64.72 512.03 L63.98 510.92 L62.87 510.55 L62.13 510.55M227.15 512.03 L227.89 511.66 L228.99 510.55 L228.99 518.3M235.63 510.55 L234.53 510.92 L233.79 512.03 L233.42 513.87 L233.42 514.98 L233.79 516.82 L234.53 517.93 L235.63 518.3 L236.37 518.3 L237.48 517.93 L238.22 516.82 L238.59 514.98 L238.59 513.87 L238.22 512.03 L237.48 510.92 L236.37 510.55 L235.63 510.55M396.22 512.4 L396.22 512.03 L396.59 511.29 L396.96 510.92 L397.7 510.55 L399.17 510.55 L399.91 510.92 L400.28 511.29 L400.65 512.03 L400.65 512.76 L400.28 513.5 L399.54 514.61 L395.85 518.3 L401.02 518.3M405.45 510.55 L404.34 510.92 L403.6 512.03 L403.23 513.87 L403.23 514.98 L403.6 516.82 L404.34 517.93 L405.45 518.3 L406.18 518.3 L407.29 517.93 L408.03 516.82 L408.4 514.98 L408.4 513.87 L408.03 512.03 L407.29 510.92 L406.18 510.55 L405.45 510.55M566.4 510.55 L570.46 510.55 L568.25 513.5 L569.35 513.5 L570.09 513.87 L570.46 514.24 L570.83 515.35 L570.83 516.09 L570.46 517.19 L569.72 517.93 L568.62 518.3 L567.51 518.3 L566.4 517.93 L566.03 517.56 L565.66 516.82M575.26 510.55 L574.15 510.92 L573.41 512.03 L573.04 513.87 L573.04 514.98 L573.41 516.82 L574.15 517.93 L575.26 518.3 L576 518.3 L577.1 517.93 L577.84 516.82 L578.21 514.98 L578.21 513.87 L577.84 512.03 L577.1 510.92 L576 510.55 L575.26 510.55M739.17 510.55 L735.48 515.72 L741.01 515.72M739.17 510.55 L739.17 518.3M745.07 510.55 L743.96 510.92 L743.23 512.03 L742.86 513.87 L742.86 514.98 L743.23 516.82 L743.96 517.93 L745.07 518.3 L745.81 518.3 L746.92 517.93 L747.65 516.82 L748.02 514.98 L748.02 513.87 L747.65 512.03 L746.92 510.92 L745.81 510.55 L745.07 510.55M365.91 524.85 L365.91 532.6M365.91 524.85 L368.86 532.6M371.81 524.85 L368.86 532.6M371.81 524.85 L371.81 532.6M378.82 527.43 L378.82 532.6M378.82 528.54 L378.09 527.8 L377.35 527.43 L376.24 527.43 L375.5 527.8 L374.77 528.54 L374.4 529.65 L374.4 530.39 L374.77 531.49 L375.5 532.23 L376.24 532.6 L377.35 532.6 L378.09 532.23 L378.82 531.49M385.84 527.43 L385.84 533.34 L385.47 534.45 L385.1 534.81 L384.36 535.18 L383.25 535.18 L382.51 534.81M385.84 528.54 L385.1 527.8 L384.36 527.43 L383.25 527.43 L382.51 527.8 L381.78 528.54 L381.41 529.65 L381.41 530.39 L381.78 531.49 L382.51 532.23 L383.25 532.6 L384.36 532.6 L385.1 532.23 L385.84 531.49M388.79 527.43 L388.79 532.6M388.79 528.91 L389.89 527.8 L390.63 527.43 L391.74 527.43 L392.48 527.8 L392.85 528.91 L392.85 532.6M395.43 524.85 L395.8 525.22 L396.17 524.85 L395.8 524.48 L395.43 524.85M395.8 527.43 L395.8 532.6M399.12 524.85 L399.12 531.12 L399.49 532.23 L400.23 532.6 L400.96 532.6M398.01 527.43 L400.6 527.43M403.18 527.43 L403.18 531.12 L403.55 532.23 L404.29 532.6 L405.39 532.6 L406.13 532.23 L407.24 531.12M407.24 527.43 L407.24 532.6M414.25 524.85 L414.25 532.6M414.25 528.54 L413.51 527.8 L412.77 527.43 L411.67 527.43 L410.93 527.8 L410.19 528.54 L409.82 529.65 L409.82 530.39 L410.19 531.49 L410.93 532.23 L411.67 532.6 L412.77 532.6 L413.51 532.23 L414.25 531.49M416.83 529.65 L421.26 529.65 L421.26 528.91 L420.89 528.17 L420.52 527.8 L419.78 527.43 L418.68 527.43 L417.94 527.8 L417.2 528.54 L416.83 529.65 L416.83 530.39 L417.2 531.49 L417.94 532.23 L418.68 532.6 L419.78 532.6 L420.52 532.23 L421.26 531.49M-0.15 287.15 L7.6 287.15M-0.15 287.15 L7.6 281.98M-0.15 281.98 L7.6 281.98M2.43 279.03 L6.12 279.03 L7.23 278.66 L7.6 277.92 L7.6 276.82 L7.23 276.08 L6.12 274.97M2.43 274.97 L7.6 274.97M2.43 272.02 L7.6 272.02M3.91 272.02 L2.8 270.91 L2.43 270.17 L2.43 269.07 L2.8 268.33 L3.91 267.96 L7.6 267.96M3.91 267.96 L2.8 266.85 L2.43 266.12 L2.43 265.01 L2.8 264.27 L3.91 263.9 L7.6 263.9M-0.15 260.95 L7.6 260.95M3.54 260.95 L2.8 260.21 L2.43 259.47 L2.43 258.37 L2.8 257.63 L3.54 256.89 L4.65 256.52 L5.39 256.52 L6.49 256.89 L7.23 257.63 L7.6 258.37 L7.6 259.47 L7.23 260.21 L6.49 260.95M4.65 254.31 L4.65 249.88 L3.91 249.88 L3.17 250.25 L2.8 250.62 L2.43 251.36 L2.43 252.46 L2.8 253.2 L3.54 253.94 L4.65 254.31 L5.39 254.31 L6.49 253.94 L7.23 253.2 L7.6 252.46 L7.6 251.36 L7.23 250.62 L6.49 249.88M2.43 247.3 L7.6 247.3M4.65 247.3 L3.54 246.93 L2.8 246.19 L2.43 245.45 L2.43 244.34M25.18 495.63 L25.92 495.26 L27.02 494.15 L27.02 501.9M33.67 494.15 L32.56 494.52 L31.82 495.63 L31.45 497.47 L31.45 498.58 L31.82 500.42 L32.56 501.53 L33.67 501.9 L34.4 501.9 L35.51 501.53 L36.25 500.42 L36.62 498.58 L36.62 497.47 L36.25 495.63 L35.51 494.52 L34.4 494.15 L33.67 494.15M39.78 491.6 L39.1 491.82 L38.64 492.51 L38.41 493.65 L38.41 494.34 L38.64 495.48 L39.1 496.17 L39.78 496.4 L40.24 496.4 L40.93 496.17 L41.38 495.48 L41.61 494.34 L41.61 493.65 L41.38 492.51 L40.93 491.82 L40.24 491.6 L39.78 491.6M25.18 414.1 L25.92 413.73 L27.02 412.62 L27.02 420.37M33.67 412.62 L32.56 412.99 L31.82 414.1 L31.45 415.94 L31.45 417.05 L31.82 418.9 L32.56 420 L33.67 420.37 L34.4 420.37 L35.51 420 L36.25 418.9 L36.62 417.05 L36.62 415.94 L36.25 414.1 L35.51 412.99 L34.4 412.62 L33.67 412.62M38.64 411.21 L38.64 410.98 L38.87 410.53 L39.1 410.3 L39.55 410.07 L40.47 410.07 L40.93 410.3 L41.16 410.53 L41.38 410.98 L41.38 411.44 L41.16 411.9 L40.7 412.58 L38.41 414.87 L41.61 414.87M25.18 328.37 L25.92 328 L27.02 326.9 L27.02 334.65M33.67 326.9 L32.56 327.27 L31.82 328.37 L31.45 330.22 L31.45 331.32 L31.82 333.17 L32.56 334.28 L33.67 334.65 L34.4 334.65 L35.51 334.28 L36.25 333.17 L36.62 331.32 L36.62 330.22 L36.25 328.37 L35.51 327.27 L34.4 326.9 L33.67 326.9M40.7 324.34 L38.41 327.54 L41.84 327.54M40.7 324.34 L40.7 329.15M25.18 242.65 L25.92 242.28 L27.02 241.17 L27.02 248.92M33.67 241.17 L32.56 241.54 L31.82 242.65 L31.45 244.49 L31.45 245.6 L31.82 247.44 L32.56 248.55 L33.67 248.92 L34.4 248.92 L35.51 248.55 L36.25 247.44 L36.62 245.6 L36.62 244.49 L36.25 242.65 L35.51 241.54 L34.4 241.17 L33.67 241.17M41.38 239.3 L41.16 238.84 L40.47 238.61 L40.01 238.61 L39.33 238.84 L38.87 239.53 L38.64 240.67 L38.64 241.82 L38.87 242.73 L39.33 243.19 L40.01 243.42 L40.24 243.42 L40.93 243.19 L41.38 242.73 L41.61 242.05 L41.61 241.82 L41.38 241.13 L40.93 240.67 L40.24 240.44 L40.01 240.44 L39.33 240.67 L38.87 241.13 L38.64 241.82M25.18 156.92 L25.92 156.55 L27.02 155.44 L27.02 163.19M33.67 155.44 L32.56 155.81 L31.82 156.92 L31.45 158.76 L31.45 159.87 L31.82 161.71 L32.56 162.82 L33.67 163.19 L34.4 163.19 L35.51 162.82 L36.25 161.71 L36.62 159.87 L36.62 158.76 L36.25 156.92 L35.51 155.81 L34.4 155.44 L33.67 155.44M39.55 152.89 L38.87 153.12 L38.64 153.57 L38.64 154.03 L38.87 154.49 L39.33 154.72 L40.24 154.95 L40.93 155.17 L41.38 155.63 L41.61 156.09 L41.61 156.78 L41.38 157.23 L41.16 157.46 L40.47 157.69 L39.55 157.69 L38.87 157.46 L38.64 157.23 L38.41 156.78 L38.41 156.09 L38.64 155.63 L39.1 155.17 L39.78 154.95 L40.7 154.72 L41.16 154.49 L41.38 154.03 L41.38 153.57 L41.16 153.12 L40.47 152.89 L39.55 152.89M20.6 71.19 L21.34 70.82 L22.45 69.71 L22.45 77.46M29.09 69.71 L27.98 70.08 L27.24 71.19 L26.88 73.04 L26.88 74.14 L27.24 75.99 L27.98 77.09 L29.09 77.46 L29.83 77.46 L30.93 77.09 L31.67 75.99 L32.04 74.14 L32.04 73.04 L31.67 71.19 L30.93 70.08 L29.83 69.71 L29.09 69.71M34.52 68.07 L34.98 67.85 L35.67 67.16 L35.67 71.96M39.78 67.16 L39.1 67.39 L38.64 68.07 L38.41 69.22 L38.41 69.9 L38.64 71.05 L39.1 71.73 L39.78 71.96 L40.24 71.96 L40.93 71.73 L41.38 71.05 L41.61 69.9 L41.61 69.22 L41.38 68.07 L40.93 67.39 L40.24 67.16 L39.78 67.16" fill="none" stroke="#151515" stroke-width="0.92" stroke-linecap="round" stroke-linejoin="round"/>
</svg>
</body></html>
